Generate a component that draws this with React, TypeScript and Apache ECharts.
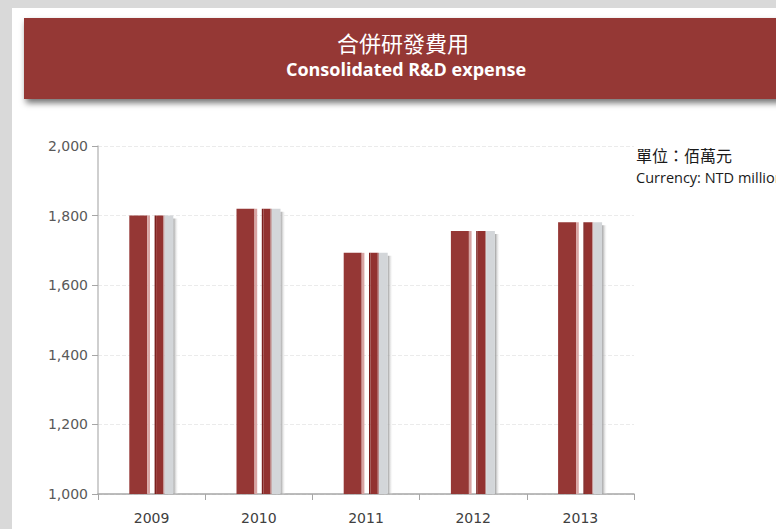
import React, { useEffect, useRef } from "react";
import * as echarts from "echarts";

const years = ["2009", "2010", "2011", "2012", "2013"];
const rdExpense = [1800, 1820, 1693, 1756, 1781];
const yTicks = [1000, 1200, 1400, 1600, 1800, 2000];

const titleZh = "合併研發費用";
const titleEn = "Consolidated R&D expense";
const unitZh = "單位：佰萬元";
const unitEn = "Currency: NTD million";

export default function App() {
  const ref = useRef<HTMLDivElement>(null);
  useEffect(() => {
    if (!ref.current) return;
    const chart = echarts.init(ref.current, undefined, { renderer: "svg" });
    const fmt = (v: number) => v.toLocaleString("en-US");
    const option: any = {
      animation: false,
      backgroundColor: "#d9d9d9",
      graphic: [
        { type: "rect", z: 0, shape: { x: 12, y: 8, width: 780, height: 540 }, style: { fill: "#ffffff" } },
        {
          type: "rect",
          z: 1,
          shape: { x: 24, y: 18, width: 780, height: 81 },
          style: { fill: "#953735", shadowBlur: 6, shadowOffsetX: 2, shadowOffsetY: 4, shadowColor: "rgba(0,0,0,0.55)" },
        },
        {
          type: "text",
          z: 2,
          x: 403,
          y: 42,
          style: { text: titleZh, fill: "#ffffff", font: "22px 'Noto Sans CJK TC', sans-serif", align: "center", verticalAlign: "middle" },
        },
        {
          type: "text",
          z: 2,
          x: 406,
          y: 69,
          style: { text: titleEn, fill: "#ffffff", font: "bold 18px 'Open Sans', sans-serif", align: "center", verticalAlign: "middle" },
        },
        {
          type: "text",
          z: 2,
          x: 636,
          y: 155,
          style: { text: unitZh, fill: "#1a1a1a", font: "16px 'Noto Sans CJK TC', sans-serif", align: "left", verticalAlign: "middle" },
        },
        {
          type: "text",
          z: 2,
          x: 636,
          y: 177,
          style: { text: unitEn, fill: "#1a1a1a", font: "14.5px 'Open Sans', sans-serif", align: "left", verticalAlign: "middle" },
        },
      ],
      grid: { left: 98, top: 146, width: 536, height: 348, containLabel: false },
      xAxis: {
        type: "category",
        data: years,
        boundaryGap: true,
        axisLine: { lineStyle: { color: "#a6a6a6", width: 1.5 } },
        axisTick: { show: true, length: 6, lineStyle: { color: "#a6a6a6" } },
        axisLabel: { color: "#404040", fontSize: 14, fontFamily: "'DejaVu Sans', sans-serif", margin: 17 },
      },
      yAxis: {
        type: "value",
        min: yTicks[0],
        max: yTicks[yTicks.length - 1],
        interval: 200,
        axisLine: { show: true, lineStyle: { color: "#bfbfbf", width: 1.5 } },
        axisTick: { show: true, length: 6, lineStyle: { color: "#a6a6a6" } },
        axisLabel: { color: "#595959", fontSize: 14, fontFamily: "'DejaVu Sans', sans-serif", margin: 10, formatter: (v: number) => fmt(v) },
        splitLine: { show: true, lineStyle: { color: "#ebebeb", type: "dashed" } },
      },
      series: [
        {
          type: "custom",
          data: rdExpense.map((v, i) => [i, v]),
          renderItem: (params: any, api: any) => {
            const idx = api.value(0);
            const top = api.coord([idx, api.value(1)]);
            const bottom = api.coord([idx, yTicks[0]]);
            const c = top[0];
            const yTop = top[1];
            const h = bottom[1] - yTop;
            const r = (x0: number, x1: number, fill: any, dy = 0) => ({
              type: "rect",
              shape: { x: c + x0, y: yTop + dy, width: x1 - x0, height: h - dy },
              style: { fill },
            });
            return {
              type: "group",
              children: [
                r(21.7, 27, new echarts.graphic.LinearGradient(0, 0, 1, 0, [
                  { offset: 0, color: "#9a9a9a" },
                  { offset: 1, color: "rgba(255,255,255,0)" },
                ]), 3),
                r(-22.3, -4.3, "#953735"),
                r(-4.3, -1.6, "#d8a5a4"),
                r(3.0, 4.5, "#7a1f1d"),
                r(4.5, 11.8, "#923230"),
                r(11.8, 13.0, "#b98a89"),
                r(13.0, 21.7, "#d3d6d9"),
              ],
            };
          },
        },
      ],
    };
    chart.setOption(option);
    return () => chart.dispose();
  }, []);
  return <div ref={ref} style={{ position: "fixed", left: 0, top: 0, width: 776, height: 529 }} />;
}
